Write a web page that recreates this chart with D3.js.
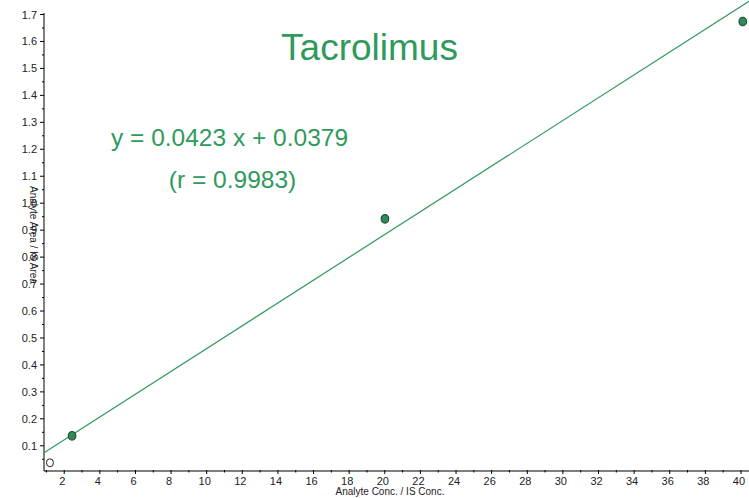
<!DOCTYPE html>
<html>
<head>
<meta charset="utf-8">
<script src="https://cdn.jsdelivr.net/npm/d3@7/dist/d3.min.js"></script>
<style>
  html, body { margin: 0; padding: 0; background: #fff; }
  svg { display: block; font-family: "Liberation Sans", Arial, sans-serif; }
</style>
</head>
<body>
<svg id="chart" width="749" height="498"></svg>
<script>
// Calibration standards (analyte conc. / IS conc. vs analyte area / IS area)
const stdConc  = [2.44, 20.01, 40.1];
const stdRatio = [0.137, 0.942, 1.674];
// Excluded standard (open marker)
const exclConc  = [1.2];
const exclRatio = [0.037];
// Linear fit
const slope = 0.0423;
const intercept = 0.0379;
const rValue = 0.9983;
const compound = "Tacrolimus";
const xTicks = [2, 4, 6, 8, 10, 12, 14, 16, 18, 20, 22, 24, 26, 28, 30, 32, 34, 36, 38, 40];
const yTicks = [0.1, 0.2, 0.3, 0.4, 0.5, 0.6, 0.7, 0.8, 0.9, 1.0, 1.1, 1.2, 1.3, 1.4, 1.5, 1.6, 1.7];

const green = "#2e9a5c";
const svg = d3.select("#chart");

const x0 = 44, x1 = 749, yBottom = 471, yTopAxis = 13;
const x = d3.scaleLinear().domain([0.865, 40.45]).range([x0, x1]);
const y = d3.scaleLinear().domain([0.0065, 1.7]).range([yBottom, 14.5]);

// Axes
const xMinor = d3.range(1, 41, 2);
const yMinor = d3.range(0.05, 1.71, 0.1);

const gx = svg.append("g").attr("transform", `translate(0,${yBottom})`);
gx.append("line").attr("x1", x0).attr("x2", x1).attr("stroke", "#000");
gx.selectAll("line.maj").data(xTicks).join("line").attr("class", "maj")
  .attr("x1", d => x(d)).attr("x2", d => x(d)).attr("y1", -1).attr("y2", 3).attr("stroke", "#000");
gx.selectAll("line.min").data(xMinor).join("line").attr("class", "min")
  .attr("x1", d => x(d)).attr("x2", d => x(d)).attr("y1", -1).attr("y2", 1.5).attr("stroke", "#000");
gx.selectAll("text").data(xTicks).join("text")
  .attr("x", d => x(d) - 2).attr("y", 14).attr("text-anchor", "middle")
  .attr("font-size", 11).attr("fill", "#222").text(d => d);

const gy = svg.append("g").attr("transform", `translate(${x0},0)`);
gy.append("line").attr("y1", yTopAxis).attr("y2", yBottom).attr("stroke", "#000");
gy.selectAll("line.maj").data(yTicks).join("line").attr("class", "maj")
  .attr("y1", d => y(d)).attr("y2", d => y(d)).attr("x1", -4).attr("x2", 0).attr("stroke", "#000");
gy.selectAll("line.min").data(yMinor).join("line").attr("class", "min")
  .attr("y1", d => y(d)).attr("y2", d => y(d)).attr("x1", -2).attr("x2", 0).attr("stroke", "#000");
gy.selectAll("text").data(yTicks).join("text")
  .attr("x", -7).attr("y", d => y(d) + 4).attr("text-anchor", "end")
  .attr("font-size", 11).attr("fill", "#222").text(d => d3.format(".1f")(d));

// Axis titles
svg.append("text").attr("x", 390).attr("y", 495).attr("text-anchor", "middle")
  .attr("font-size", 10).attr("fill", "#222").text("Analyte Conc. / IS Conc.");
svg.append("text").attr("transform", `translate(30,235) rotate(90)`).attr("text-anchor", "middle")
  .attr("font-size", 10).attr("fill", "#222").text("Analyte Area / IS Area");

// Regression line
const xa = x.domain()[0], xb = x.domain()[1];
svg.append("line")
  .attr("x1", x(xa)).attr("y1", y(slope * xa + intercept))
  .attr("x2", x(xb)).attr("y2", y(slope * xb + intercept))
  .attr("stroke", green).attr("stroke-width", 1.2);

// Standards
svg.selectAll("ellipse.std").data(stdConc).join("ellipse").attr("class", "std")
  .attr("cx", (d, i) => x(d)).attr("cy", (d, i) => y(stdRatio[i]))
  .attr("rx", 3.8).attr("ry", 4.3).attr("fill", "#2e8b57").attr("stroke", "#1a3a28").attr("stroke-width", 1);
svg.selectAll("ellipse.excl").data(exclConc).join("ellipse").attr("class", "excl")
  .attr("cx", (d, i) => x(d)).attr("cy", (d, i) => y(exclRatio[i]))
  .attr("rx", 3.5).attr("ry", 4).attr("fill", "#fff").attr("stroke", "#222").attr("stroke-width", 1);

// Title and fit annotation
svg.append("text").attr("x", 369.5).attr("y", 60).attr("text-anchor", "middle")
  .attr("font-size", 37).attr("fill", green).text(compound);
svg.append("text").attr("x", 229.5).attr("y", 146).attr("text-anchor", "middle")
  .attr("font-size", 24.5).attr("fill", green)
  .text(`y = ${slope.toFixed(4)} x + ${intercept.toFixed(4)}`);
svg.append("text").attr("x", 232.5).attr("y", 188).attr("text-anchor", "middle")
  .attr("font-size", 24.5).attr("fill", green)
  .text(`(r = ${rValue.toFixed(4)})`);
</script>
</body>
</html>
